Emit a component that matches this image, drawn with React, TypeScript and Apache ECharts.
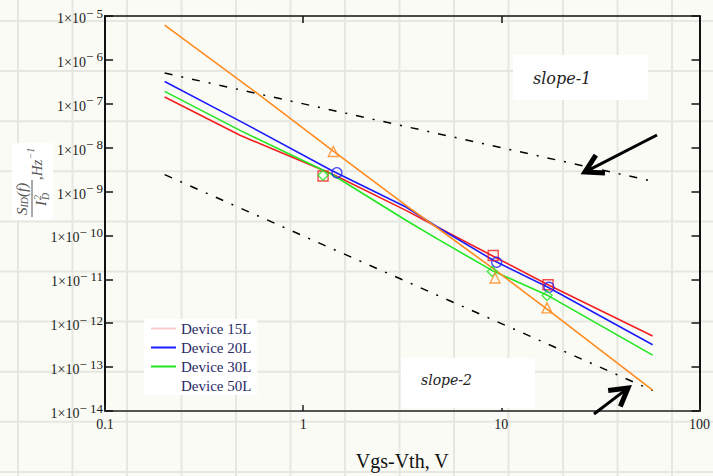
import React, { useEffect, useRef } from "react";
import * as echarts from "echarts";

// ---- data ----
const xTickLabels = ["0.1", "1", "10", "100"];
const yTickExponents = [-14, -13, -12, -11, -10, -9, -8, -7, -6, -5];

const seriesNames = ["Device 15L", "Device 20L", "Device 30L", "Device 50L"];

const lineX = [0.2, 0.48, 1.4, 3.3, 4.8, 9.1, 17.2, 58];
const red15Y = [1.43e-7, 1.91e-8, 2.52e-9, 3.73e-10, 1.52e-10, 3.36e-11, 7.53e-12, 5.14e-13];
const blue20Y = [3.23e-7, 4.03e-8, 2.99e-9, 4.45e-10, 1.52e-10, 2.72e-11, 6.58e-12, 3.22e-13];
const green30Y = [1.92e-7, 2.48e-8, 2.45e-9, 2.22e-10, 8.13e-11, 1.54e-11, 4.26e-12, 1.88e-13];
const orangeX = [0.2, 0.58, 1.42, 3.3, 4.8, 9.33, 17.2, 58];
const orange50Y = [6.17e-6, 1.79e-7, 8.32e-9, 4.84e-10, 1.44e-10, 1.62e-11, 2.02e-12, 2.99e-14];

const slopeX = [0.2, 58];
const slope1Y = [5.0e-7, 1.72e-9];
const slope2Y = [2.43e-9, 2.94e-14];

const redMarkX = [1.26, 9.1, 17.2];
const redMarkY = [2.27e-9, 3.48e-11, 7.53e-12];
const blueMarkX = [1.48, 9.47, 17.4];
const blueMarkY = [2.69e-9, 2.45e-11, 6.58e-12];
const greenMarkX = [1.26, 9.0, 17.0];
const greenMarkY = [2.35e-9, 1.51e-11, 4.26e-12];
const orangeMarkX = [1.42, 9.3, 17.0];
const orangeMarkY = [8.2e-9, 1.07e-11, 2.24e-12];

const RED = "#f42020";
const BLUE = "#1c1cff";
const GREEN = "#22e622";
const ORANGE = "#ff8a1e";
const SERIF = "Liberation Serif";

const zip = (xs: number[], ys: number[]) => xs.map((x, i) => [x, ys[i]]);

export default function App() {
  const ref = useRef<HTMLDivElement>(null);

  useEffect(() => {
    if (!ref.current) return;
    const chart = echarts.init(ref.current, undefined, { renderer: "svg" });

    // graph-paper background (decoration)
    const bg: any[] = [];
    for (let k = 0; k < 13; k++) {
      const x = 18 + 54.5 * k;
      bg.push({ type: "line", z: -10, silent: true, shape: { x1: x, y1: 0, x2: x, y2: 476 }, style: { stroke: "#e7e7e1", lineWidth: 2 } });
    }
    for (let k = 0; k < 10; k++) {
      const y = 21 + 50.1 * k;
      bg.push({ type: "line", z: -10, silent: true, shape: { x1: 0, y1: y, x2: 713, y2: y }, style: { stroke: "#e7e7e1", lineWidth: 2 } });
    }

    const labelRich = {
      i: { fontFamily: SERIF, fontStyle: "italic", fontSize: 15, fill: "#555", verticalAlign: "bottom" },
      n: { fontFamily: SERIF, fontSize: 15, fill: "#555", verticalAlign: "bottom" },
      sub: { fontFamily: SERIF, fontStyle: "italic", fontSize: 10, fill: "#555", verticalAlign: "bottom" },
      sup: { fontFamily: SERIF, fontStyle: "italic", fontSize: 10, fill: "#555", verticalAlign: "bottom", padding: [0, 0, 9, 0] },
    };
    const smallItalic = { fontFamily: SERIF, fontStyle: "italic", fontSize: 10, fill: "#555", verticalAlign: "middle" };

    const yLabel = {
      type: "group",
      x: 12,
      y: 220,
      rotation: Math.PI / 2,
      z: 5,
      children: [
        { type: "rect", shape: { x: 0, y: 0, width: 77, height: 41 }, style: { fill: "#ffffff" } },
        { type: "text", x: 5, y: 10, style: { text: "{i|S}{sub|ID}{i|(f)}", rich: labelRich, verticalAlign: "middle" } },
        { type: "line", shape: { x1: 3, y1: 20, x2: 40, y2: 20 }, style: { stroke: "#555", lineWidth: 1 } },
        { type: "text", x: 14, y: 29, style: { text: "I", fontFamily: SERIF, fontStyle: "italic", fontSize: 15, fill: "#555", verticalAlign: "middle" } },
        { type: "text", x: 20, y: 25, style: { ...smallItalic, text: "2" } },
        { type: "text", x: 20, y: 33, style: { ...smallItalic, text: "D" } },
        { type: "text", x: 40, y: 23, style: { text: "{n|,}{i|Hz}{sup|−1}", rich: labelRich, verticalAlign: "middle" } },
      ],
    };

    const arrow = (sx: number, sy: number, tx: number, ty: number) => {
      const dx = sx - tx, dy = sy - ty;
      const len = Math.hypot(dx, dy);
      const ux = dx / len, uy = dy / len;
      const c = Math.cos(Math.PI / 6), s = Math.sin(Math.PI / 6);
      const L = 20;
      const w1 = [tx + L * (ux * c - uy * s), ty + L * (ux * s + uy * c)];
      const w2 = [tx + L * (ux * c + uy * s), ty + L * (-ux * s + uy * c)];
      return [
        { type: "line", z: 10, shape: { x1: sx, y1: sy, x2: tx + ux * 3, y2: ty + uy * 3 }, style: { stroke: "#000", lineWidth: 3 } },
        { type: "polyline", z: 10, shape: { points: [w1, [tx, ty], w2] }, style: { stroke: "#000", lineWidth: 5, fill: null, lineJoin: "miter" } },
      ];
    };

    const lineSeries = (name: string, xs: number[], ys: number[], color: string) => ({
      name,
      type: "line",
      data: zip(xs, ys),
      symbol: "none",
      lineStyle: { color, width: 1.6 },
      itemStyle: { color },
      z: 3,
    });
    const markSeries = (name: string, xs: number[], ys: number[], color: string, symbol: string, size = 9) => ({
      name,
      type: "scatter",
      data: zip(xs, ys),
      symbol,
      symbolSize: size,
      itemStyle: { color: "rgba(0,0,0,0)", borderColor: color, borderWidth: 1.4 },
      z: 4,
    });

    const option: any = {
      animation: false,
      textStyle: { fontFamily: SERIF },
      grid: { left: 105, top: 16, right: 11, bottom: 62, containLabel: false },
      legend: {
        orient: "vertical",
        left: 144,
        top: 319,
        padding: [2, 6, 2, 6],
        itemGap: 4,
        itemWidth: 25,
        itemHeight: 14,
        backgroundColor: "#ffffff",
        itemStyle: { opacity: 0 },
        textStyle: { fontFamily: SERIF, fontSize: 15, color: "#2a2a66" },
        data: [
          { name: seriesNames[0], lineStyle: { color: "#f9cccc", width: 2 } },
          { name: seriesNames[1], lineStyle: { width: 2 } },
          { name: seriesNames[2], lineStyle: { width: 2 } },
          { name: seriesNames[3], lineStyle: { color: "#ffffff", width: 2 } },
        ],
      },
      xAxis: [
        {
          type: "log",
          logBase: 10,
          min: 0.1,
          max: 100,
          name: "Vgs-Vth, V",
          nameLocation: "middle",
          nameGap: 40,
          nameTextStyle: { fontFamily: SERIF, fontSize: 20, color: "#111" },
          axisLine: { lineStyle: { color: "#555", width: 2 } },
          axisTick: { inside: true, length: 6, lineStyle: { color: "#222", width: 1.5 } },
          axisLabel: {
            margin: 6,
            fontFamily: SERIF,
            fontSize: 14,
            color: "#222",
            formatter: (v: number) => xTickLabels[Math.round(Math.log10(v)) + 1] ?? "",
          },
          splitLine: { show: false },
          minorTick: { show: false },
        },
        {
          type: "log",
          logBase: 10,
          min: 0.1,
          max: 100,
          position: "top",
          axisLine: { lineStyle: { color: "#111", width: 1.5 } },
          axisTick: { inside: true, length: 7, lineStyle: { color: "#111", width: 1.5 } },
          axisLabel: { show: false },
          splitLine: { show: false },
        },
      ],
      yAxis: [
        {
          type: "log",
          logBase: 10,
          min: 1e-14,
          max: 1e-5,
          axisLine: { lineStyle: { color: "#111", width: 2 } },
          axisTick: { inside: true, length: 8, lineStyle: { color: "#111", width: 1.5 } },
          axisLabel: {
            margin: 2,
            fontFamily: SERIF,
            fontSize: 14,
            color: "#222",
            formatter: (v: number) => {
              const e = Math.round(Math.log10(v));
              if (!yTickExponents.includes(e)) return "";
              return "{b|1×10}{s|− " + String(-e) + "}";
            },
            rich: {
              b: { fontFamily: SERIF, fontSize: 14, color: "#222", verticalAlign: "bottom" },
              s: { fontFamily: SERIF, fontSize: 13, color: "#222", verticalAlign: "bottom", padding: [0, 0, 6, 0] },
            },
          },
          splitLine: { show: false },
        },
        {
          type: "log",
          logBase: 10,
          min: 1e-14,
          max: 1e-5,
          position: "right",
          axisLine: { lineStyle: { color: "#111", width: 2 } },
          axisTick: { inside: true, length: 8, lineStyle: { color: "#111", width: 1.5 } },
          axisLabel: { show: false },
          splitLine: { show: false },
        },
      ],
      series: [
        lineSeries(seriesNames[0], lineX, red15Y, RED),
        lineSeries(seriesNames[1], lineX, blue20Y, BLUE),
        lineSeries(seriesNames[2], lineX, green30Y, GREEN),
        lineSeries(seriesNames[3], orangeX, orange50Y, ORANGE),
        {
          name: "slope-1",
          type: "line",
          data: zip(slopeX, slope1Y),
          symbol: "none",
          lineStyle: { color: "#000", width: 1.5, type: [8, 9, 2, 9] },
          z: 2,
        },
        {
          name: "slope-2",
          type: "line",
          data: zip(slopeX, slope2Y),
          symbol: "none",
          lineStyle: { color: "#000", width: 1.5, type: [8, 9, 2, 9] },
          z: 2,
        },
        markSeries("m15", redMarkX, redMarkY, RED, "rect", 10),
        markSeries("m20", blueMarkX, blueMarkY, BLUE, "circle", 10),
        markSeries("m30", greenMarkX, greenMarkY, GREEN, "diamond", 10),
        markSeries("m50", orangeMarkX, orangeMarkY, ORANGE, "triangle", 10),
      ],
      graphic: [
        ...bg,
        yLabel,
        { type: "rect", z: 5, shape: { x: 513, y: 55, width: 135, height: 45 }, style: { fill: "#ffffff" } },
        {
          type: "text", z: 6, x: 533, y: 78,
          style: { text: "slope-1", fontFamily: "DejaVu Serif", fontStyle: "italic", fontSize: 16, fill: "#222", verticalAlign: "middle" },
        },
        { type: "rect", z: 5, shape: { x: 401, y: 358, width: 134, height: 50 }, style: { fill: "#ffffff" } },
        {
          type: "text", z: 6, x: 421, y: 380,
          style: { text: "slope-2", fontFamily: "DejaVu Serif", fontStyle: "italic", fontSize: 14, fill: "#222", verticalAlign: "middle" },
        },
        ...arrow(657, 135, 585, 172),
        ...arrow(594, 414, 628, 388),
      ],
    };

    chart.setOption(option);
    return () => chart.dispose();
  }, []);

  return (
    <div
      ref={ref}
      style={{ position: "fixed", left: 0, top: 0, width: 713, height: 476, background: "#fbfbf6" }}
    />
  );
}
